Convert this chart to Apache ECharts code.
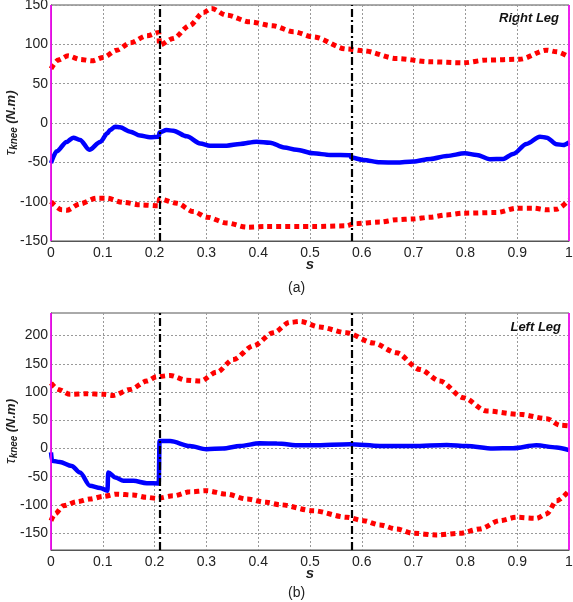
<!DOCTYPE html>
<html><head><meta charset="utf-8">
<script src="https://cdn.jsdelivr.net/npm/echarts@6/dist/echarts.min.js"></script>
<style>html,body{margin:0;padding:0;background:#fff}#c{width:573px;height:602px}</style>
</head><body><div id="c"></div>
<script>
// ---- Right leg (a) ----
const rBlueS = [0,0.011,0.03,0.043,0.056,0.074,0.095,0.109,0.114,0.124,0.133,0.153,0.172,0.191,0.208,0.2095,0.223,0.236,0.262,0.288,0.307,0.339,0.365,0.397,0.423,0.45,0.474,0.506,0.539,0.578,0.5795,0.603,0.635,0.667,0.699,0.732,0.764,0.799,0.822,0.847,0.873,0.892,0.918,0.944,0.957,0.976,0.989,1.0];
const rBlueV = [-51,-36,-24,-18.6,-21.6,-34,-24,-13,-9,-4.7,-5.5,-11,-16,-18,-17.4,-12,-9,-9.8,-17,-26,-29,-28.8,-26.6,-23.7,-25,-31,-34,-38.5,-40.6,-41,-44,-47,-50,-50.3,-49,-45.7,-41.9,-38.5,-40.6,-46,-45.7,-39.3,-26.6,-17.4,-18.6,-27,-28,-24.5];
const rUpS = [0,0.014,0.033,0.056,0.079,0.101,0.127,0.153,0.185,0.208,0.2095,0.236,0.268,0.294,0.31,0.339,0.384,0.429,0.468,0.506,0.571,0.603,0.667,0.732,0.796,0.841,0.905,0.957,0.976,1.0];
const rUpV = [69,80,85.4,80.8,79,83.4,92.6,102,110.8,115,99,107.5,124,140.5,145.5,137,128.6,123.5,116,109.5,94,91.8,82,77.8,76.5,80,81,92.6,90.5,84];
const rLoS = [0,0.021,0.03,0.056,0.088,0.107,0.14,0.172,0.208,0.2095,0.243,0.275,0.301,0.339,0.378,0.416,0.481,0.506,0.571,0.584,0.635,0.667,0.699,0.732,0.764,0.796,0.86,0.899,0.931,0.957,0.976,1.0];
const rLoV = [-100,-110.4,-111,-102.8,-95.5,-95.5,-101,-104,-105.3,-96.6,-102,-112.6,-119.7,-127,-132.4,-131.6,-131.6,-131.6,-130.7,-128,-126,-123,-122,-119.7,-116.8,-114.6,-113.8,-108.3,-108.3,-110.4,-109.5,-97.7];
const rTicks = [-150,-100,-50,0,50,100,150];

// ---- Left leg (b) ----
const lBlueS = [0,0.002,0.017,0.04,0.056,0.075,0.095,0.109,0.1105,0.124,0.14,0.159,0.185,0.208,0.2095,0.23,0.268,0.3,0.332,0.365,0.403,0.436,0.481,0.506,0.577,0.635,0.699,0.764,0.802,0.853,0.892,0.937,0.976,1.0];
const lBlueV = [-7,-22,-24,-31,-42.6,-66,-70,-75,-42.6,-51.4,-57.4,-57.4,-61.5,-62,13,13,4.4,-1.4,0,4.4,9,8.7,5.6,5.6,7.4,4.4,4.4,6.2,4.4,0,0.4,5.6,1.6,-3];
const lUpS = [0,0.014,0.037,0.069,0.101,0.12,0.153,0.185,0.204,0.23,0.262,0.288,0.32,0.352,0.391,0.429,0.461,0.481,0.519,0.571,0.622,0.667,0.712,0.751,0.796,0.841,0.905,0.957,0.983,1.0];
const lUpV = [116,104.6,95.8,97,95.8,94,104.6,119.3,127,129.3,121,119.3,135,157.6,182,204.8,223.5,225,215,204.8,187,169.4,140,119.3,90,66.3,60.4,52.8,41,39.8];
const lLoS = [0,0.008,0.024,0.05,0.075,0.101,0.127,0.159,0.185,0.204,0.236,0.268,0.3,0.339,0.378,0.416,0.442,0.506,0.571,0.603,0.635,0.667,0.699,0.744,0.789,0.828,0.866,0.899,0.937,0.957,0.976,1.0];
const lLoV = [-128,-116,-101.6,-94.5,-89.8,-85,-81,-82.7,-86.7,-88.5,-84,-76.9,-75,-81,-89.8,-95.6,-99.8,-110.4,-122,-128,-135.7,-142.8,-150.4,-153.4,-150.4,-142.8,-128,-122,-123.9,-116,-92.8,-75];
const lTicks = [-150,-100,-50,0,50,100,150,200];

const phaseLines = [0.209, 0.579];
const edgeLines = [0, 1];

const zip = (s, v) => s.map((x, i) => [x, v[i]]);
const txt = '#222';
const FONT = 'Liberation Sans, Arial, sans-serif';

function xAxisCfg(gi) {
  return {
    type: 'value', gridIndex: gi, min: 0, max: 1, interval: 0.1,
    axisLine: { show: true, onZero: false, lineStyle: { color: '#555', width: 1 } },
    axisTick: { show: false },
    axisLabel: { color: txt, fontSize: 14, fontFamily: FONT, margin: 5 },
    splitLine: { show: true, lineStyle: { color: '#999', type: [2, 2], width: 1 } },
    name: 's', nameLocation: 'middle', nameGap: 16, nameMoveOverlap: false,
    nameTextStyle: { color: txt, fontSize: 15, fontWeight: 'bold', fontStyle: 'italic', fontFamily: FONT }
  };
}
function yAxisCfg(gi, min, max, ticks) {
  return {
    type: 'value', gridIndex: gi, min: min, max: max,
    axisLine: { show: true, onZero: false, lineStyle: { color: '#555', width: 1 } },
    axisTick: { show: false, customValues: ticks },
    axisLabel: { color: txt, fontSize: 14, fontFamily: FONT, margin: 3, customValues: ticks },
    splitLine: { show: true, lineStyle: { color: '#999', type: [2, 2], width: 1 } },
    name: '{t|τ}{k|knee} {u|(N.m)}', nameLocation: 'middle', nameGap: 32, nameRotate: 90, nameMoveOverlap: false,
    nameTextStyle: {
      rich: {
        t: { fontSize: 15, color: txt, fontFamily: FONT, fontStyle: 'italic' },
        k: { fontSize: 10, color: txt, fontFamily: FONT, fontWeight: 'bold', fontStyle: 'italic', verticalAlign: 'bottom', padding: [6, 0, 0, 0] },
        u: { fontSize: 13, color: txt, fontFamily: FONT, fontWeight: 'bold', fontStyle: 'italic' }
      }
    }
  };
}
function marks() {
  return {
    silent: true, symbol: 'none', label: { show: false },
    data: [
      ...edgeLines.map(x => ({ xAxis: x, lineStyle: { color: '#ff00ff', width: 1.6, type: 'solid' } })),
      ...phaseLines.map(x => ({ xAxis: x, lineStyle: { color: '#000', width: 2.2, type: [8, 3, 2, 3] } }))
    ]
  };
}
function red(gi, s, v) {
  return { type: 'line', xAxisIndex: gi, yAxisIndex: gi, data: zip(s, v), showSymbol: false, smooth: 0.3, smoothMonotone: 'x',
    lineStyle: { color: '#ff0000', width: 5, type: [5, 4] }, z: 3 };
}
function blue(gi, s, v, withMarks) {
  const o = { type: 'line', xAxisIndex: gi, yAxisIndex: gi, data: zip(s, v), showSymbol: false, smooth: 0.3, smoothMonotone: 'x',
    lineStyle: { color: '#0000ff', width: 4.5 }, z: 2 };
  if (withMarks) o.markLine = marks();
  return o;
}

const chart = echarts.init(document.getElementById('c'));
chart.setOption({
  animation: false,
  backgroundColor: '#fff',
  grid: [
    { left: 51, top: 5, width: 518, height: 236, outerBoundsMode: 'none', containLabel: false, show: true, borderColor: '#555', borderWidth: 1, backgroundColor: 'transparent' },
    { left: 51, top: 313, width: 518, height: 237, outerBoundsMode: 'none', containLabel: false, show: true, borderColor: '#555', borderWidth: 1, backgroundColor: 'transparent' }
  ],
  xAxis: [xAxisCfg(0), xAxisCfg(1)],
  yAxis: [yAxisCfg(0, -150, 150, rTicks), yAxisCfg(1, -180, 240, lTicks)],
  series: [
    blue(0, rBlueS, rBlueV, true), red(0, rUpS, rUpV), red(0, rLoS, rLoV),
    blue(1, lBlueS, lBlueV, true), red(1, lUpS, lUpV), red(1, lLoS, lLoV)
  ],
  graphic: [
    { type: 'text', right: 14, top: 12, style: { text: 'Right Leg', fill: '#111', font: 'italic bold 13px ' + FONT } },
    { type: 'text', right: 12, top: 321, style: { text: 'Left Leg', fill: '#111', font: 'italic bold 13px ' + FONT } },
    { type: 'text', left: 288, top: 281, style: { text: '(a)', fill: txt, font: '14px ' + FONT } },
    { type: 'text', left: 288, top: 586, style: { text: '(b)', fill: txt, font: '14px ' + FONT } }
  ]
});
</script></body></html>
